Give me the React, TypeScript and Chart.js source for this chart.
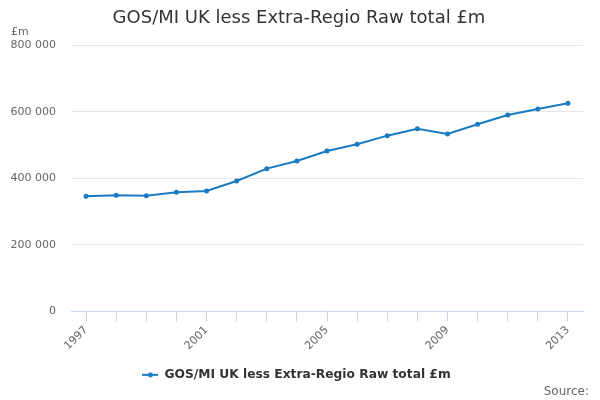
import React, { useEffect, useRef } from 'react';
import { Chart, registerables } from 'chart.js';

Chart.register(...registerables);

const years = [
  '1997', '1998', '1999', '2000', '2001', '2002', '2003', '2004', '2005',
  '2006', '2007', '2008', '2009', '2010', '2011', '2012', '2013',
];

const gosValues = [
  346000, 349000, 348000, 358000, 362000, 392000, 429000, 452000, 482000,
  502000, 528000, 549000, 533000, 562000, 590000, 608000, 625000,
];

const yTicks = [0, 200000, 400000, 600000, 800000];

const SERIES_NAME = 'GOS/MI UK less Extra-Regio Raw total £m';
const LINE_COLOR = '#1a7bc2';

// space as thousands separator, like "800 000"
const formatNumber = (v: number) => String(v).replace(/\B(?=(\d{3})+(?!\d))/g, ' ');

// little line-with-dot symbol for the legend
function makeLegendSymbol() {
  const c = document.createElement('canvas');
  c.width = 16;
  c.height = 6;
  const ctx = c.getContext('2d');
  if (ctx) {
    ctx.strokeStyle = LINE_COLOR;
    ctx.lineWidth = 2;
    ctx.beginPath();
    ctx.moveTo(0, 3);
    ctx.lineTo(16, 3);
    ctx.stroke();
    ctx.fillStyle = LINE_COLOR;
    ctx.beginPath();
    ctx.arc(8, 3, 2.5, 0, Math.PI * 2);
    ctx.fill();
  }
  return c;
}

// title, unit label and credits drawn by hand so they sit where the original has them
const extraText = {
  id: 'extraText',
  afterDraw(chart: Chart) {
    const { ctx, width, height } = chart;
    ctx.save();
    ctx.textBaseline = 'middle';
    ctx.fillStyle = '#333333';
    ctx.font = '18px "DejaVu Sans"';
    ctx.textAlign = 'center';
    ctx.fillText(SERIES_NAME, 299, 18);
    ctx.fillStyle = '#666666';
    ctx.font = '11px "DejaVu Sans"';
    ctx.textAlign = 'left';
    ctx.fillText('£m', 11, 32);
    ctx.font = '12px "DejaVu Sans"';
    ctx.textAlign = 'right';
    ctx.fillText('Source:', width - 11, height - 8);
    ctx.restore();
  },
};

const GosChart: React.FC = () => {
  const chartRef = useRef<HTMLCanvasElement>(null);
  const chartInstance = useRef<Chart | null>(null);

  useEffect(() => {
    if (!chartRef.current) return;
    if (chartInstance.current) chartInstance.current.destroy();

    const ctx = chartRef.current.getContext('2d');
    if (!ctx) return;

    Chart.defaults.font.family = '"DejaVu Sans", sans-serif';

    chartInstance.current = new Chart(ctx, {
      type: 'line',
      data: {
        labels: years,
        datasets: [
          {
            label: SERIES_NAME,
            data: gosValues,
            borderColor: LINE_COLOR,
            backgroundColor: LINE_COLOR,
            borderWidth: 2,
            pointRadius: 2.5,
            pointBorderWidth: 0,
            pointBackgroundColor: LINE_COLOR,
            tension: 0,
          },
        ],
      },
      options: {
        responsive: true,
        maintainAspectRatio: false,
        animation: false,
        layout: {
          padding: { top: 45, left: 10, right: 17, bottom: 9 },
        },
        plugins: {
          title: { display: false },
          legend: {
            position: 'bottom',
            labels: {
              usePointStyle: true,
              pointStyle: makeLegendSymbol(),
              pointStyleWidth: 16,
              color: '#333333',
              font: { size: 12.25, weight: 'bold' },
              padding: 14,
            },
          },
          tooltip: { enabled: false },
        },
        scales: {
          x: {
            offset: true,
            afterFit: (scale) => {
              // the rotated first label may hang past the plot edge, as in the original
              scale.paddingLeft = 0;
              scale.paddingRight = 0;
            },
            grid: {
              display: true,
              drawOnChartArea: false,
              drawTicks: true,
              tickLength: 10,
              color: '#ccd6eb',
            },
            border: { display: true, color: '#ccd6eb' },
            ticks: {
              autoSkip: false,
              minRotation: 45,
              maxRotation: 45,
              color: '#666666',
              font: { size: 11 },
              padding: 2,
              callback: (_v, idx) => (idx % 4 === 0 ? years[idx] : ''),
            },
          },
          y: {
            min: 0,
            max: 800000,
            afterBuildTicks: (axis) => {
              axis.ticks = yTicks.map((v) => ({ value: v }));
            },
            afterFit: (scale) => {
              scale.width = 61;
            },
            grid: { color: '#e6e6e6', drawTicks: false },
            border: { display: false },
            ticks: {
              color: '#666666',
              font: { size: 11 },
              padding: 15,
              callback: (v) => formatNumber(Number(v)),
            },
          },
        },
      },
      plugins: [extraText],
    });

    return () => {
      if (chartInstance.current) {
        chartInstance.current.destroy();
        chartInstance.current = null;
      }
    };
  }, []);

  return (
    <div style={{ position: 'fixed', left: 0, top: 0, width: '600px', height: '400px', background: '#fff' }}>
      <canvas ref={chartRef}></canvas>
    </div>
  );
};

export default function App() {
  return <GosChart />;
}
